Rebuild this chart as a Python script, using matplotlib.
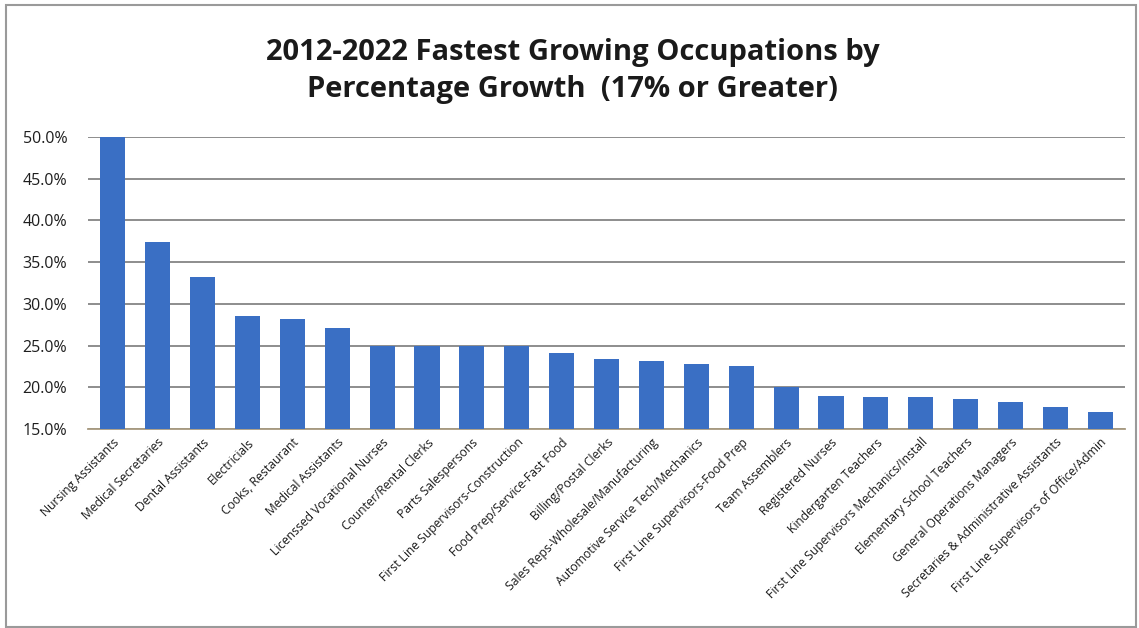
import numpy as np
import matplotlib.pyplot as plt
from matplotlib.patches import Rectangle
from matplotlib.ticker import FuncFormatter, MultipleLocator

OCCUPATIONS = [
    "Nursing Assistants",
    "Medical Secretaries",
    "Dental Assistants",
    "Electricials",
    "Cooks, Restaurant",
    "Medical Assistants",
    "Licenssed Vocational Nurses",
    "Counter/Rental Clerks",
    "Parts Salespersons",
    "First Line Supervisors-Construction",
    "Food Prep/Service-Fast Food",
    "Billing/Postal Clerks",
    "Sales Reps-Wholesale/Manufacturing",
    "Automotive Service Tech/Mechanics",
    "First Line Supervisors-Food Prep",
    "Team Assemblers",
    "Registered Nurses",
    "Kindergarten Teachers",
    "First Line Supervisors Mechanics/Install",
    "Elementary School Teachers",
    "General Operations Managers",
    "Secretaries & Administrative Assistants",
    "First Line Supervisors of Office/Admin",
]

# percentage growth 2012-2022
GROWTH = [50.0, 37.4, 33.2, 28.5, 28.2, 27.1, 25.0, 25.0, 25.0, 25.0,
          24.1, 23.4, 23.2, 22.8, 22.6, 20.0, 19.0, 18.8, 18.8, 18.6,
          18.2, 17.6, 17.0]

TITLE = "2012-2022 Fastest Growing Occupations by\nPercentage Growth  (17% or Greater)"

BAR_COLOR = "#3a6fc4"
GRID_COLOR = "#858585"

plt.rcParams["font.family"] = ["Open Sans", "DejaVu Sans"]

fig = plt.figure(figsize=(11.39, 6.28), dpi=100)
ax = fig.add_axes([0.0773, 0.3169, 0.9104, 0.4649])

x = np.arange(len(OCCUPATIONS))
# bars rise from the 15% floor of the axis
ax.bar(x, np.array(GROWTH) - 15.0, bottom=15.0, width=0.56,
       color=BAR_COLOR, zorder=3)

ax.set_ylim(15, 50)
ax.set_xlim(-0.55, len(OCCUPATIONS) - 0.45)
ax.yaxis.set_major_locator(MultipleLocator(5))
ax.yaxis.set_major_formatter(FuncFormatter(lambda v, _: f"{v:.1f}%"))
ax.grid(axis="y", color=GRID_COLOR, lw=1.3, zorder=0)

for side in ["top", "right", "left"]:
    ax.spines[side].set_visible(False)
ax.spines["bottom"].set_color("#a89a80")
ax.spines["bottom"].set_linewidth(1.3)

ax.tick_params(axis="y", length=0, pad=15, labelsize=11.5, labelcolor="#1e1e1e")
ax.tick_params(axis="x", length=0, pad=5)
ax.set_xticks(x)
ax.set_xticklabels(OCCUPATIONS, rotation=45, ha="right", rotation_mode="anchor",
                   fontsize=8.7, color="#1a1a1a")

fig.text(0.503, 0.887, TITLE, ha="center", va="center", fontsize=21,
         fontweight="bold", color="#1a1a1a", linespacing=1.35)

# chart frame
fig.patches.append(Rectangle((0.005, 0.002), 0.992, 0.99, transform=fig.transFigure,
                             fill=False, edgecolor="#9a9a9a", lw=1.5))

fig.savefig("out.png", dpi=100)
